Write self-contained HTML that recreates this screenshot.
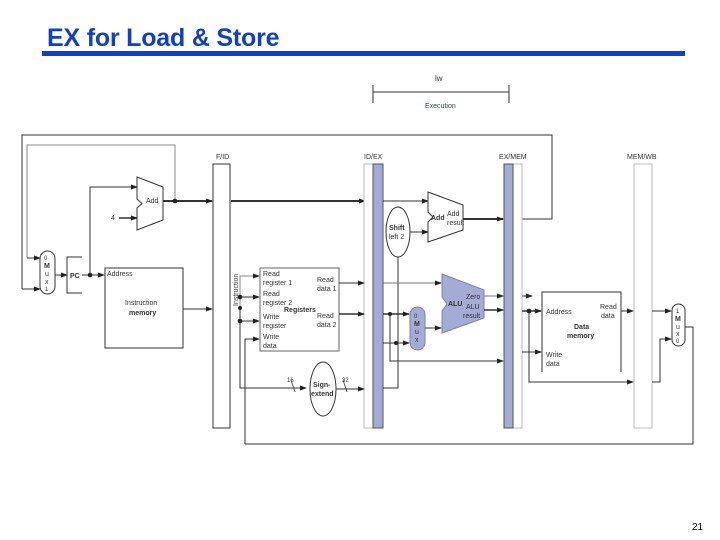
<!DOCTYPE html>
<html><head><meta charset="utf-8"><style>
body{margin:0;width:720px;height:540px;background:#fff;overflow:hidden;position:relative;font-family:"Liberation Sans",Arial,sans-serif}
.t{position:absolute;left:47px;top:24px;font-size:25px;font-weight:bold;color:#1240c4;letter-spacing:-0.2px}
.bar{position:absolute;left:42px;top:51px;width:643px;height:5px;background:#1240c4}
svg{position:absolute;left:0;top:0}
text{font-family:"Liberation Sans",Arial,sans-serif;fill:#333}
</style></head><body>
<div class="t">EX for Load &amp; Store</div><div class="bar"></div>
<svg width="720" height="540" viewBox="0 0 720 540">
<defs><marker id="a" markerUnits="userSpaceOnUse" markerWidth="7" markerHeight="6" refX="6" refY="3" orient="auto"><path d="M0,0.5 L7,3 L0,5.5z" fill="#222"/></marker></defs>
<g stroke="#333" fill="none" stroke-width="1">
<path d="M373,85V103M509,85V103M373,92H509"/>
<path d="M22,289V135H552V219H522"/>
<path d="M27,258V145H175V201" stroke="#888"/>
<path d="M22,289H40" marker-end="url(#a)"/>
<path d="M27,258H40" marker-end="url(#a)"/>
<path d="M137,177L163,187V220L137,230V208L142,203.5L137,199Z" fill="#fff"/>
<path d="M163,201H212" stroke-width="2" marker-end="url(#a)"/>
<path d="M231,201H365" stroke-width="2" marker-end="url(#a)"/>
<path d="M119,218H137" stroke-width="1.5" marker-end="url(#a)"/>
<path d="M90,275V187H137" marker-end="url(#a)"/>
<rect x="40" y="251" width="15" height="43" rx="7.5" fill="#fff"/>
<path d="M55,275H67" marker-end="url(#a)"/>
<path d="M82,257H67V293H82"/>
<path d="M82,275H104" marker-end="url(#a)"/>
<rect x="105" y="268" width="78" height="80" fill="#fff"/>
<path d="M183,309H212" marker-end="url(#a)"/>
<rect x="213" y="164" width="17" height="264" fill="#fff"/>
<rect x="364" y="164" width="19" height="264" fill="#fff" stroke="#bbb"/>
<rect x="373" y="164" width="10" height="264" fill="#a4acd6" stroke="#555"/>
<rect x="504" y="164" width="18" height="264" fill="#fff" stroke="#bbb"/>
<rect x="504" y="164" width="9" height="264" fill="#a4acd6" stroke="#555"/>
<rect x="634" y="164" width="18" height="264" fill="#fff" stroke="#bbb"/>
<rect x="260" y="268" width="79" height="83" fill="#fff" stroke="#666"/>
<path d="M240,308V276H259" stroke="#888" marker-end="url(#a)"/>
<path d="M240,297H259" marker-end="url(#a)"/>
<path d="M240,308V388H306" marker-end="url(#a)"/>
<path d="M240,321H259" marker-end="url(#a)"/>
<path d="M245,444V339H259" marker-end="url(#a)"/>
<path d="M339,283H364" marker-end="url(#a)"/>
<path d="M339,314H364" stroke-width="1.5" marker-end="url(#a)"/>
<ellipse cx="323" cy="389" rx="13" ry="27" fill="#fff"/>
<path d="M336,389H364" marker-end="url(#a)"/>
<path d="M291,380L295,392M343,380L347,392" stroke-width="0.8"/>
<path d="M383,201H428" marker-end="url(#a)"/>
<ellipse cx="398" cy="232" rx="12" ry="25" fill="#fff"/>
<path d="M410,232H428" marker-end="url(#a)"/>
<path d="M398,257V388H383"/>
<path d="M428,192L463,205V230L428,242V222L433,217L428,212Z" fill="#fff"/>
<path d="M463,219H503" stroke-width="2" marker-end="url(#a)"/>
<path d="M383,283H441" stroke="#777" marker-end="url(#a)"/>
<path d="M442,274L484,290V318L442,333V311L447,304L442,297Z" fill="#a4acd6" stroke="#7a82b8"/>
<path d="M484,296H503" stroke="#777" marker-end="url(#a)"/>
<path d="M484,310H503" stroke-width="1.5" marker-end="url(#a)"/>
<path d="M383,314H409" stroke-width="1.5" marker-end="url(#a)"/>
<path d="M390,314V361H503" marker-end="url(#a)"/>
<path d="M383,343H409" marker-end="url(#a)"/>
<rect x="410" y="307" width="15" height="43" rx="7.5" fill="#a4acd6" stroke="#7a82b8"/>
<path d="M425,328H441" marker-end="url(#a)"/>
<path d="M522,296H532" marker-end="url(#a)"/>
<path d="M522,311H541" stroke-width="1.5" marker-end="url(#a)"/>
<path d="M529,311V382H633" marker-end="url(#a)"/>
<path d="M522,352H541" marker-end="url(#a)"/>
<path d="M542,372V292H621V372" fill="#fff"/>
<path d="M621,311H633" marker-end="url(#a)"/>
<path d="M652,311H671" marker-end="url(#a)"/>
<path d="M652,382H660V339H671" marker-end="url(#a)"/>
<rect x="672" y="304" width="13" height="42" rx="6.5" fill="#fff"/>
<path d="M685,327H693V444H245"/>
</g>
<g fill="#222">
<circle cx="175" cy="201" r="2.3"/><circle cx="90" cy="275" r="2.3"/>
<circle cx="240" cy="297" r="2.3"/><circle cx="240" cy="321" r="2.3"/><circle cx="240" cy="308" r="2"/>
<circle cx="390" cy="314" r="2"/><circle cx="396" cy="343" r="2"/><circle cx="529" cy="311" r="2.3"/>
</g>
<g font-size="7">
<text x="435" y="81" font-size="8">lw</text>
<text x="425" y="108" style="fill:#345">Execution</text>
<text x="216" y="159">F/ID</text><text x="364" y="159">ID/EX</text><text x="499" y="159">EX/MEM</text><text x="627" y="159">MEM/WB</text>
<text x="146" y="203">Add</text><text x="111" y="220">4</text>
<text x="44" y="260" font-size="6">0</text><text x="44" y="268" font-weight="bold">M</text><text x="45" y="276">u</text><text x="45" y="284">x</text><text x="45" y="291" font-size="6">1</text>
<text x="70" y="278" font-weight="bold">PC</text>
<text x="107" y="276">Address</text><text x="125" y="305">Instruction</text><text x="129" y="315" font-weight="bold">memory</text>
<text transform="translate(238,306) rotate(-90)" font-size="7">Instruction</text>
<text x="263" y="276">Read</text><text x="263" y="285">register 1</text><text x="263" y="296">Read</text><text x="263" y="305">register 2</text>
<text x="263" y="319">Write</text><text x="263" y="328">register</text><text x="263" y="339">Write</text><text x="263" y="348">data</text>
<text x="317" y="282">Read</text><text x="317" y="291">data 1</text><text x="317" y="318">Read</text><text x="317" y="327">data 2</text>
<text x="284" y="312" font-weight="bold">Registers</text>
<text x="313" y="387" font-weight="bold">Sign-</text><text x="311" y="396" font-weight="bold">extend</text>
<text x="287" y="382" font-size="6">16</text><text x="342" y="382" font-size="6">32</text>
<text x="389" y="230" font-weight="bold">Shift</text><text x="389" y="239">left 2</text>
<text x="431" y="220" font-weight="bold">Add</text><text x="447" y="216">Add</text><text x="447" y="225">result</text>
<text x="448" y="306" font-weight="bold">ALU</text><text x="466" y="299">Zero</text><text x="466" y="309">ALU</text><text x="463" y="318">result</text>
<text x="414" y="318" font-size="6">0</text><text x="414" y="326" font-weight="bold">M</text><text x="415" y="334">u</text><text x="415" y="342">x</text>
<text x="546" y="314">Address</text><text x="600" y="309">Read</text><text x="601" y="318">data</text>
<text x="574" y="329" font-weight="bold">Data</text><text x="567" y="338" font-weight="bold">memory</text>
<text x="546" y="357">Write</text><text x="546" y="366">data</text>
<text x="676" y="313" font-size="6">1</text><text x="675" y="321" font-weight="bold">M</text><text x="676" y="329">u</text><text x="676" y="336">x</text><text x="676" y="343" font-size="6">0</text>
<text x="692" y="530" font-size="10" style="fill:#000">21</text>
</g>
</svg>
</body></html>
